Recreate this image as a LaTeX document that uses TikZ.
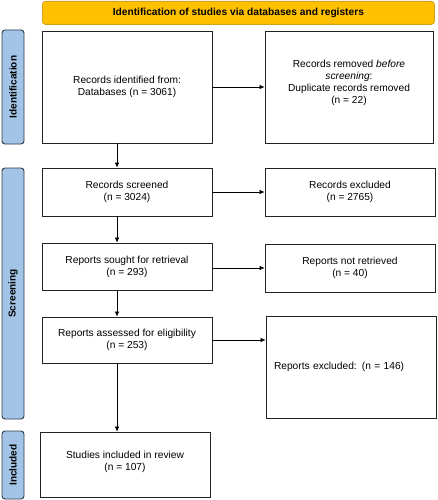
\documentclass[tikz,border=0pt]{standalone}
\usepackage{fontspec}
\setmainfont{Liberation Sans}
\usetikzlibrary{arrows.meta}
\definecolor{bannerfill}{HTML}{FFC000}
\definecolor{bannerdraw}{HTML}{D4A21A}
\definecolor{sidefill}{HTML}{A3C4E6}
\definecolor{sidedraw}{HTML}{2B3A4A}
\definecolor{boxdraw}{HTML}{222222}
\tikzset{
  box/.style={draw=boxdraw, line width=0.8pt, fill=white, align=center,
    inner sep=2pt, font=\fontsize{10.2}{12}\selectfont},
  side/.style={draw=sidedraw, fill=sidefill, line width=0.9pt, rounded corners=3pt,
    font=\bfseries\fontsize{10}{12}\selectfont},
  banner/.style={draw=bannerdraw, fill=bannerfill, line width=0.8pt, rounded corners=3pt,
    font=\bfseries\fontsize{10.2}{12}\selectfont},
  arr/.style={-{Latex[length=5pt,width=4.5pt]}, line width=0.6pt, black}
}
\begin{document}
\begin{tikzpicture}[x=1pt,y=-1pt]
\useasboundingbox (0,0) rectangle (437,500);
% banner
\node[banner, minimum width=392pt, minimum height=23pt, anchor=north west] (ban) at (42,1)
  {Identification of studies via databases and registers};
% side bars
\node[side, minimum width=114pt, minimum height=22pt, rotate=90] (sid) at (13,87) {Identification};
\node[side, minimum width=251pt, minimum height=22pt, rotate=90] (sscr) at (13,293.5) {Screening};
\node[side, minimum width=68pt, minimum height=22pt, rotate=90] (sinc) at (13,465) {Included};
% boxes
\node[box, minimum width=170pt, minimum height=112pt] (ident) at (127,87)
  {Records identified from:\\Databases (n = 3061)};
\node[box, minimum width=168pt, minimum height=112pt] (removed) at (349,87)
  {Records removed \textit{before}\\\textit{screening}:\\Duplicate records removed\\(n = 22)\\[-1pt]};
\node[box, minimum width=170pt, minimum height=48pt] (screened) at (127,192)
  {Records screened\\(n = 3024)};
\node[box, minimum width=170pt, minimum height=48pt] (excluded) at (350,192)
  {Records excluded\\(n = 2765)};
\node[box, minimum width=170pt, minimum height=47pt] (sought) at (127,266.5)
  {Reports sought for retrieval\\(n = 293)};
\node[box, minimum width=170pt, minimum height=48pt] (notret) at (350,268)
  {Reports not retrieved\\(n = 40)};
\node[box, minimum width=170pt, minimum height=46pt] (assessed) at (127,340)
  {Reports assessed for eligibility\\(n = 253)};
\node[box, minimum width=170pt, minimum height=102pt, text width=160pt, align=left] (repexcl) at (351,367)
  {\hspace*{3pt}Reports excluded: (n = 146)\\[12pt]};
\node[box, minimum width=170pt, minimum height=65pt] (studies) at (125,464.5)
  {Studies included in review\\(n = 107)\\[-4pt]};
% arrows
\coordinate (xa) at (117,0);
\draw[arr] (ident.east) -- (removed.west |- ident.east);
\draw[arr] (ident.south -| xa) -- (screened.north -| xa);
\draw[arr] (screened.east) -- (excluded.west |- screened.east);
\draw[arr] (screened.south -| xa) -- (sought.north -| xa);
\draw[arr] (sought.east |- notret.west) -- (notret.west);
\draw[arr] (sought.south -| xa) -- (assessed.north -| xa);
\draw[arr] (assessed.east) -- (repexcl.west |- assessed.east);
\draw[arr] (assessed.south -| xa) -- (studies.north -| xa);
\end{tikzpicture}
\end{document}
